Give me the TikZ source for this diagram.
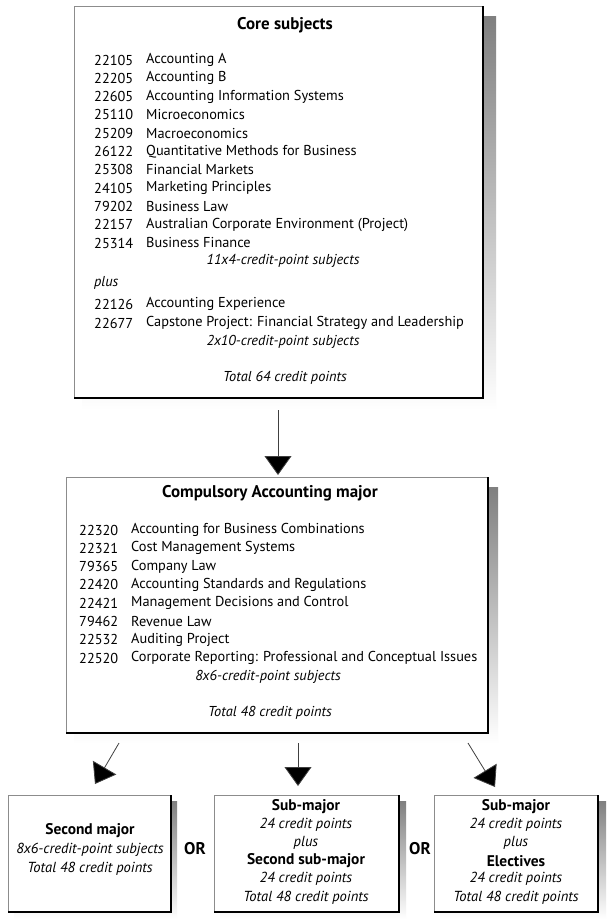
\documentclass[tikz,border=0pt]{standalone}
\usepackage{fontspec}
\setmainfont{PT Sans}
\usetikzlibrary{arrows.meta,fit}
\definecolor{shade}{gray}{0.66}
\newcommand\txtsize{\fontsize{14.4}{17}\selectfont}
\tikzset{
  boxframe/.style={fill=white, inner sep=0pt, outer sep=0pt},
  lightedge/.style={draw=black!45, line width=0.7bp},
  darkedge/.style={draw=black, line width=1.1bp},
  code/.style={anchor=west, inner sep=0pt, font=\txtsize},
  subj/.style={anchor=west, inner sep=0pt, font=\txtsize},
  ital/.style={inner sep=0pt, font=\txtsize\itshape},
  ttl/.style={inner sep=0pt, font=\fontsize{17}{20}\selectfont\bfseries},
  bld/.style={inner sep=0pt, font=\fontsize{15.5}{18}\selectfont\bfseries},
  bital/.style={inner sep=0pt, font=\fontsize{14.6}{18}\selectfont\itshape},
  orlabel/.style={inner sep=0pt, font=\fontsize{17}{20}\selectfont\bfseries},
  conn/.style={draw=black!75, line width=0.8bp, -{Triangle[length=19bp,width=27bp,fill=black]}},
}
\begin{document}
\begin{tikzpicture}[x=1bp,y=-1bp]
\useasboundingbox[fill=white] (0,0) rectangle (608,919);

% ---------- top box ----------
\fill[shade] (82,16) rectangle (496,410);
\coordinate (core-nw) at (74,6);
\coordinate (core-se) at (483,398);
\node[boxframe, fit=(core-nw)(core-se)] (core) {};
\draw[lightedge] (core.south west) -- (core.north west) -- (core.north east);
\draw[darkedge] (core.north east) -- (core.south east) -- (core.south west);
\node[ttl] (coreT) at (285,25) {Core subjects};
\foreach \c/\t [count=\i from 0] in {22105/Accounting A, 22205/Accounting B, 22605/Accounting Information Systems, 25110/Microeconomics, 25209/Macroeconomics, 26122/Quantitative Methods for Business, 25308/Financial Markets, 24105/Marketing Principles, 79202/Business Law, 22157/Australian Corporate Environment (Project), 25314/Business Finance}{
  \node[code] (tc\i) at (94,{60+18.3*\i}) {\c};
  \node[subj] (tn\i) at (146,{60+18.3*\i}) {\t};
}
\node[ital] (coreA) at (283,261) {11x4-credit-point subjects};
\node[ital, anchor=west] (coreP) at (94,283) {plus};
\node[code] (tcX) at (94,304) {22126};
\node[subj] (tnX) at (146,304) {Accounting Experience};
\node[code] (tcY) at (94,323) {22677};
\node[subj] (tnY) at (146,323) {Capstone Project: Financial Strategy and Leadership};
\node[ital] (coreB) at (283,342) {2x10-credit-point subjects};
\node[ital] (coreTot) at (285,378) {Total 64 credit points};

% ---------- middle box ----------
\fill[shade] (74,487) rectangle (498,743);
\coordinate (maj-nw) at (66,477);
\coordinate (maj-se) at (488,733);
\node[boxframe, fit=(maj-nw)(maj-se)] (major) {};
\draw[lightedge] (major.south west) -- (major.north west) -- (major.north east);
\draw[darkedge] (major.north east) -- (major.south east) -- (major.south west);
\node[ttl] (majT) at (270,493) {Compulsory Accounting major};
\foreach \c/\t [count=\i from 0] in {22320/Accounting for Business Combinations, 22321/Cost Management Systems, 79365/Company Law, 22420/Accounting Standards and Regulations, 22421/Management Decisions and Control, 79462/Revenue Law, 22532/Auditing Project, 22520/Corporate Reporting: Professional and Conceptual Issues}{
  \node[code] (mc\i) at (79,{530+18.3*\i}) {\c};
  \node[subj] (mn\i) at (131,{530+18.3*\i}) {\t};
}
\node[ital] (majA) at (268,677) {8x6-credit-point subjects};
\node[ital] (majTot) at (270,713) {Total 48 credit points};

% ---------- bottom boxes ----------
\fill[shade] (14,801) rectangle (177,919);
\coordinate (b1-nw) at (8,795);
\coordinate (b1-se) at (171,912);
\node[boxframe, fit=(b1-nw)(b1-se)] (second) {};
\draw[lightedge] (second.south west) -- (second.north west) -- (second.north east);
\draw[darkedge] (second.north east) -- (second.south east) -- (second.south west);
\node[bld] (b1a) at (90,831) {Second major};
\node[bital] (b1b) at (90,850) {8x6-credit-point subjects};
\node[bital] (b1c) at (90,869) {Total 48 credit points};

\node[orlabel] (or1) at (195,849) {OR};

\fill[shade] (220,801) rectangle (406,919);
\coordinate (b2-nw) at (214,795);
\coordinate (b2-se) at (399,912);
\node[boxframe, fit=(b2-nw)(b2-se)] (submaj) {};
\draw[lightedge] (submaj.south west) -- (submaj.north west) -- (submaj.north east);
\draw[darkedge] (submaj.north east) -- (submaj.south east) -- (submaj.south west);
\node[bld] (b2a) at (306,807) {Sub-major};
\node[bital] (b2b) at (306,825) {24 credit points};
\node[bital] (b2c) at (306,843) {plus};
\node[bld] (b2d) at (306,861) {Second sub-major};
\node[bital] (b2e) at (306,879) {24 credit points};
\node[bital] (b2f) at (306,898) {Total 48 credit points};

\node[orlabel] (or2) at (420,849) {OR};

\fill[shade] (440,801) rectangle (606,919);
\coordinate (b3-nw) at (434,795);
\coordinate (b3-se) at (598,912);
\node[boxframe, fit=(b3-nw)(b3-se)] (elect) {};
\draw[lightedge] (elect.south west) -- (elect.north west) -- (elect.north east);
\draw[darkedge] (elect.north east) -- (elect.south east) -- (elect.south west);
\node[bld] (b3a) at (516,807) {Sub-major};
\node[bital] (b3b) at (516,825) {24 credit points};
\node[bital] (b3c) at (516,843) {plus};
\node[bld] (b3d) at (516,861) {Electives};
\node[bital] (b3e) at (516,879) {24 credit points};
\node[bital] (b3f) at (516,898) {Total 48 credit points};

% ---------- connectors ----------
\coordinate (s1) at (278,410);
\coordinate (e1) at (278,475);
\draw[conn] (s1) -- (e1);
\coordinate (s2) at (119,743);
\coordinate (e2) at (95,784);
\draw[conn] (s2) -- (e2);
\coordinate (s3) at (298,743);
\coordinate (e3) at (298,786);
\draw[conn] (s3) -- (e3);
\coordinate (s4) at (468,743);
\coordinate (e4) at (495,787);
\draw[conn] (s4) -- (e4);
\end{tikzpicture}
\end{document}
